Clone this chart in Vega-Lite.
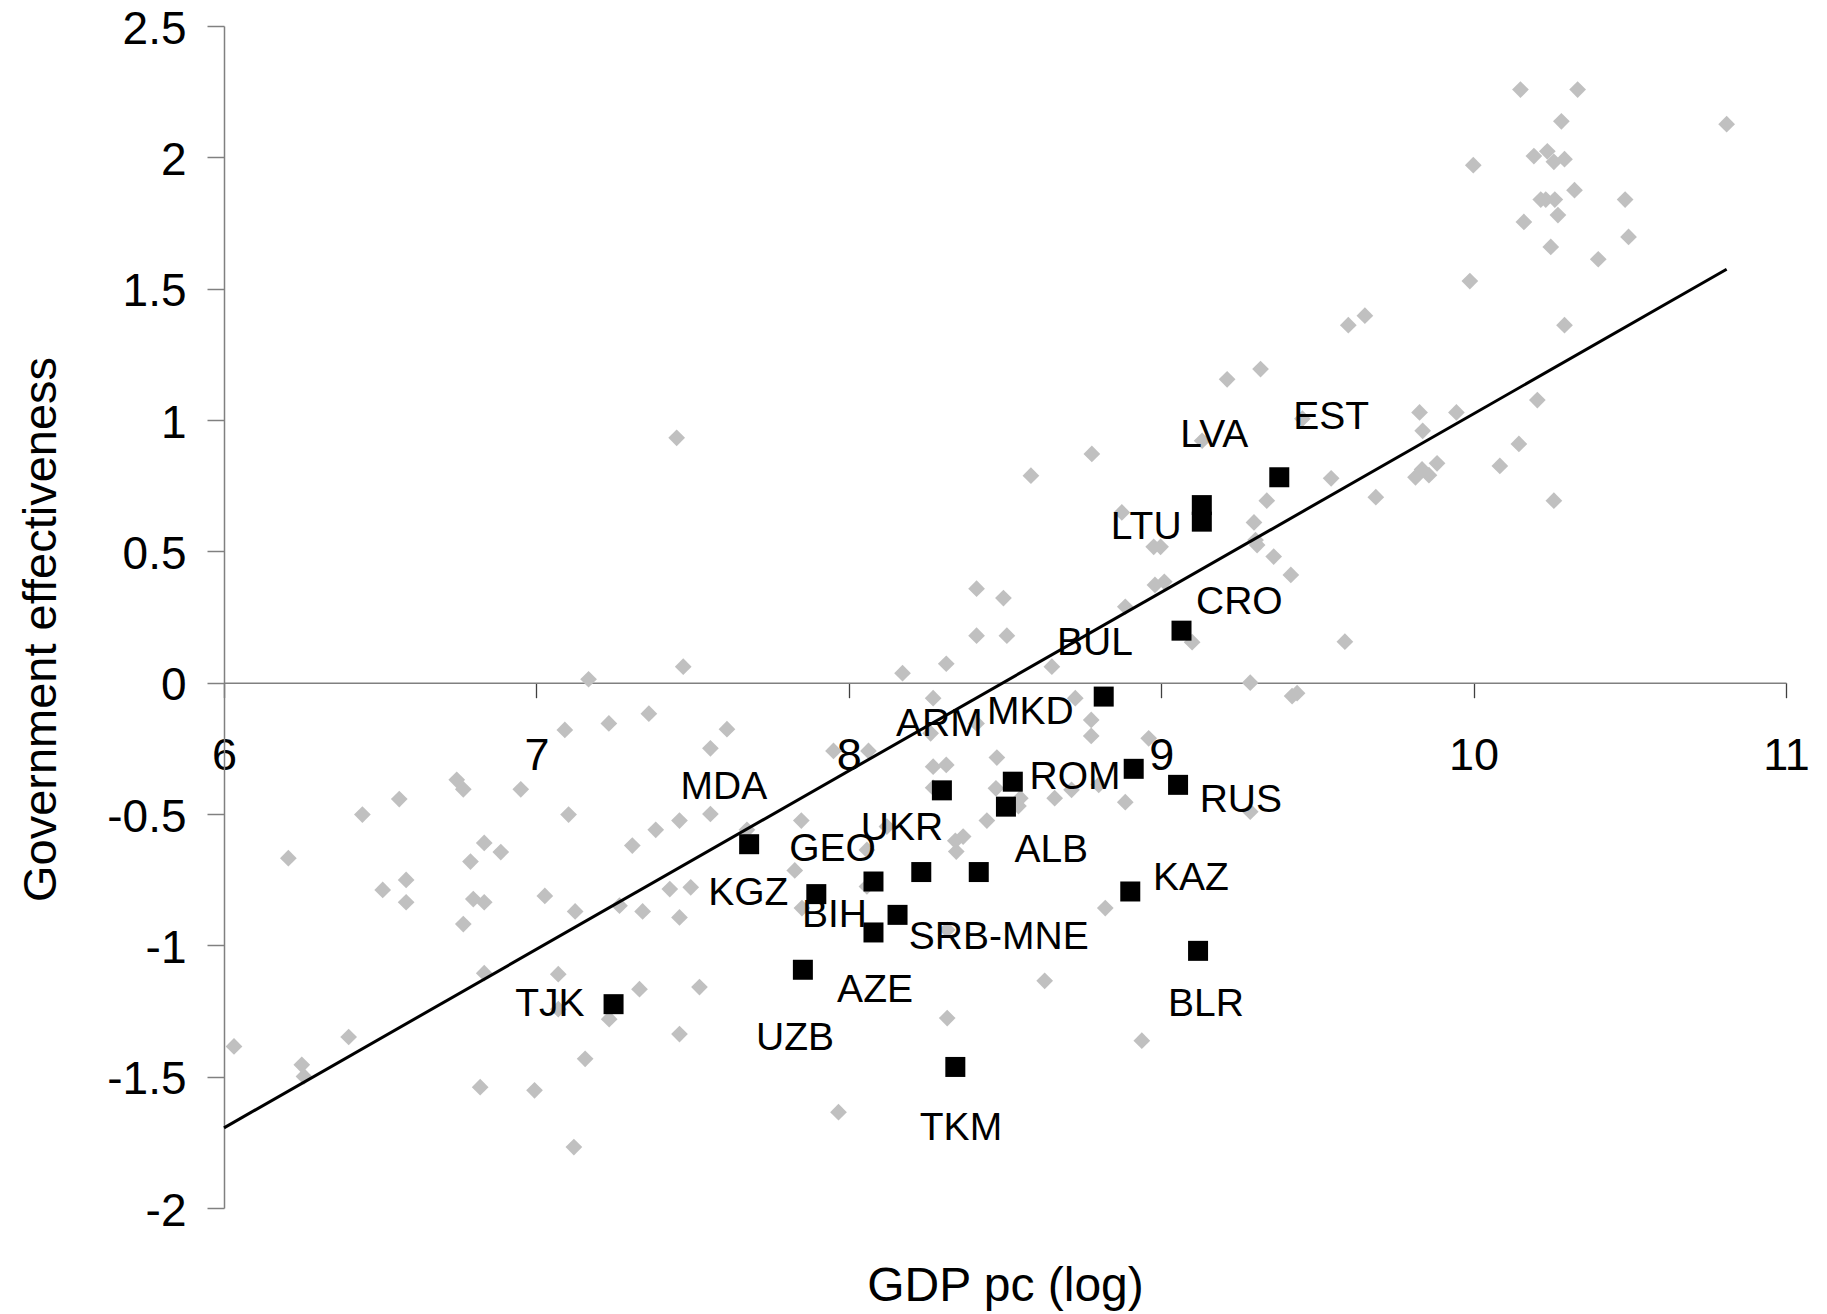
{
  "$schema": "https://vega.github.io/schema/vega-lite/v6.json",
  "autosize": {"type": "none"},
  "width": 1562,
  "height": 1182,
  "padding": {"left": 224, "top": 26, "right": 41, "bottom": 106},
  "background": "white",
  "config": {
    "view": {"stroke": null},
    "font": "Liberation Sans"
  },
  "datasets": {
    "others": [
      {"gdp": 6.032, "ge": -1.385}, {"gdp": 6.206, "ge": -0.668}, {"gdp": 6.249, "ge": -1.455}, {"gdp": 6.256, "ge": -1.499},
      {"gdp": 6.399, "ge": -1.349}, {"gdp": 6.443, "ge": -0.502}, {"gdp": 6.508, "ge": -0.789}, {"gdp": 6.561, "ge": -0.443},
      {"gdp": 6.583, "ge": -0.751}, {"gdp": 6.583, "ge": -0.836}, {"gdp": 6.745, "ge": -0.37}, {"gdp": 6.766, "ge": -0.406},
      {"gdp": 6.766, "ge": -0.919}, {"gdp": 6.789, "ge": -0.681}, {"gdp": 6.798, "ge": -0.824}, {"gdp": 6.82, "ge": -1.54},
      {"gdp": 6.833, "ge": -0.61}, {"gdp": 6.833, "ge": -0.836}, {"gdp": 6.833, "ge": -1.106}, {"gdp": 6.886, "ge": -0.645},
      {"gdp": 6.95, "ge": -0.406}, {"gdp": 6.994, "ge": -1.552}, {"gdp": 7.027, "ge": -0.812}, {"gdp": 7.07, "ge": -1.11},
      {"gdp": 7.07, "ge": -1.243}, {"gdp": 7.091, "ge": -0.18}, {"gdp": 7.103, "ge": -0.502}, {"gdp": 7.12, "ge": -1.768},
      {"gdp": 7.124, "ge": -0.871}, {"gdp": 7.156, "ge": -1.432}, {"gdp": 7.167, "ge": 0.013}, {"gdp": 7.232, "ge": -0.155},
      {"gdp": 7.233, "ge": -1.281}, {"gdp": 7.266, "ge": -0.849}, {"gdp": 7.307, "ge": -0.62}, {"gdp": 7.33, "ge": -1.167},
      {"gdp": 7.34, "ge": -0.871}, {"gdp": 7.36, "ge": -0.118}, {"gdp": 7.382, "ge": -0.56}, {"gdp": 7.427, "ge": -0.786},
      {"gdp": 7.449, "ge": 0.932}, {"gdp": 7.458, "ge": -0.525}, {"gdp": 7.458, "ge": -0.894}, {"gdp": 7.458, "ge": -1.338},
      {"gdp": 7.47, "ge": 0.061}, {"gdp": 7.494, "ge": -0.779}, {"gdp": 7.522, "ge": -1.159}, {"gdp": 7.557, "ge": -0.25},
      {"gdp": 7.557, "ge": -0.5}, {"gdp": 7.61, "ge": -0.177}, {"gdp": 7.674, "ge": -0.56}, {"gdp": 7.827, "ge": -0.715},
      {"gdp": 7.848, "ge": -0.525}, {"gdp": 7.85, "ge": -0.858}, {"gdp": 7.951, "ge": -0.26}, {"gdp": 7.967, "ge": -1.635},
      {"gdp": 8.058, "ge": -0.637}, {"gdp": 8.058, "ge": -0.776}, {"gdp": 8.063, "ge": -0.26}, {"gdp": 8.122, "ge": -0.548},
      {"gdp": 8.172, "ge": 0.036}, {"gdp": 8.262, "ge": -0.193}, {"gdp": 8.27, "ge": -0.059}, {"gdp": 8.27, "ge": -0.32},
      {"gdp": 8.27, "ge": -0.4}, {"gdp": 8.312, "ge": 0.072}, {"gdp": 8.312, "ge": -0.313}, {"gdp": 8.315, "ge": -0.941},
      {"gdp": 8.315, "ge": -1.277}, {"gdp": 8.341, "ge": -0.602}, {"gdp": 8.366, "ge": -0.586}, {"gdp": 8.344, "ge": -0.643},
      {"gdp": 8.409, "ge": 0.358}, {"gdp": 8.409, "ge": 0.179}, {"gdp": 8.409, "ge": -0.155}, {"gdp": 8.442, "ge": -0.525},
      {"gdp": 8.471, "ge": -0.402}, {"gdp": 8.474, "ge": -0.285}, {"gdp": 8.495, "ge": 0.322}, {"gdp": 8.506, "ge": 0.179},
      {"gdp": 8.549, "ge": -0.44}, {"gdp": 8.543, "ge": -0.47}, {"gdp": 8.583, "ge": 0.788}, {"gdp": 8.627, "ge": -1.135},
      {"gdp": 8.65, "ge": 0.061}, {"gdp": 8.659, "ge": -0.44}, {"gdp": 8.713, "ge": -0.408}, {"gdp": 8.725, "ge": -0.059},
      {"gdp": 8.776, "ge": -0.142}, {"gdp": 8.776, "ge": -0.203}, {"gdp": 8.778, "ge": 0.871}, {"gdp": 8.8, "ge": -0.389},
      {"gdp": 8.821, "ge": -0.858}, {"gdp": 8.874, "ge": 0.648}, {"gdp": 8.885, "ge": 0.289}, {"gdp": 8.885, "ge": -0.455},
      {"gdp": 8.938, "ge": -1.363}, {"gdp": 8.96, "ge": -0.212}, {"gdp": 8.976, "ge": 0.517}, {"gdp": 8.998, "ge": 0.517},
      {"gdp": 8.98, "ge": 0.372}, {"gdp": 9.01, "ge": 0.384}, {"gdp": 9.099, "ge": 0.154}, {"gdp": 9.131, "ge": 0.921},
      {"gdp": 9.211, "ge": 1.155}, {"gdp": 9.285, "ge": 0.0}, {"gdp": 9.285, "ge": -0.491}, {"gdp": 9.297, "ge": 0.61},
      {"gdp": 9.302, "ge": 0.543}, {"gdp": 9.307, "ge": 0.524}, {"gdp": 9.318, "ge": 1.194}, {"gdp": 9.338, "ge": 0.693},
      {"gdp": 9.36, "ge": 0.48}, {"gdp": 9.415, "ge": 0.41}, {"gdp": 9.419, "ge": -0.051}, {"gdp": 9.435, "ge": -0.04},
      {"gdp": 9.452, "ge": 1.005}, {"gdp": 9.544, "ge": 0.778}, {"gdp": 9.588, "ge": 0.156}, {"gdp": 9.599, "ge": 1.361},
      {"gdp": 9.652, "ge": 1.397}, {"gdp": 9.687, "ge": 0.706}, {"gdp": 9.814, "ge": 0.782}, {"gdp": 9.835, "ge": 0.812},
      {"gdp": 9.857, "ge": 0.79}, {"gdp": 9.827, "ge": 1.029}, {"gdp": 9.837, "ge": 0.959}, {"gdp": 9.883, "ge": 0.835},
      {"gdp": 9.945, "ge": 1.029}, {"gdp": 9.988, "ge": 1.529}, {"gdp": 9.999, "ge": 1.97}, {"gdp": 10.084, "ge": 0.825},
      {"gdp": 10.145, "ge": 0.909}, {"gdp": 10.15, "ge": 2.258}, {"gdp": 10.161, "ge": 1.754}, {"gdp": 10.193, "ge": 2.005},
      {"gdp": 10.204, "ge": 1.076}, {"gdp": 10.215, "ge": 1.839}, {"gdp": 10.231, "ge": 1.839}, {"gdp": 10.236, "ge": 2.023},
      {"gdp": 10.247, "ge": 1.659}, {"gdp": 10.257, "ge": 1.983}, {"gdp": 10.257, "ge": 0.693}, {"gdp": 10.26, "ge": 1.839},
      {"gdp": 10.27, "ge": 1.78}, {"gdp": 10.281, "ge": 2.137}, {"gdp": 10.291, "ge": 1.993}, {"gdp": 10.291, "ge": 1.361},
      {"gdp": 10.323, "ge": 1.875}, {"gdp": 10.333, "ge": 2.258}, {"gdp": 10.399, "ge": 1.612}, {"gdp": 10.485, "ge": 1.839},
      {"gdp": 10.496, "ge": 1.697}, {"gdp": 10.81, "ge": 2.126}
    ],
    "transition": [
      {"code": "TJK", "gdp": 7.247, "ge": -1.224, "lgdp": 7.043, "lge": -1.214},
      {"code": "MDA", "gdp": 7.681, "ge": -0.615, "lgdp": 7.6, "lge": -0.389},
      {"code": "KGZ", "gdp": 7.896, "ge": -0.805, "lgdp": 7.678, "lge": -0.793},
      {"code": "GEO", "gdp": 8.079, "ge": -0.757, "lgdp": 7.948, "lge": -0.626},
      {"code": "UKR", "gdp": 8.232, "ge": -0.721, "lgdp": 8.17, "lge": -0.544},
      {"code": "SRB-MNE", "gdp": 8.416, "ge": -0.721, "lgdp": 8.48, "lge": -0.96},
      {"code": "BIH", "gdp": 8.156, "ge": -0.884, "lgdp": 7.954, "lge": -0.877},
      {"code": "AZE", "gdp": 8.079, "ge": -0.951, "lgdp": 8.084, "lge": -1.163},
      {"code": "UZB", "gdp": 7.853, "ge": -1.093, "lgdp": 7.828, "lge": -1.347},
      {"code": "TKM", "gdp": 8.341, "ge": -1.463, "lgdp": 8.359, "lge": -1.689},
      {"code": "ARM", "gdp": 8.298, "ge": -0.41, "lgdp": 8.29, "lge": -0.151},
      {"code": "ROM", "gdp": 8.525, "ge": -0.377, "lgdp": 8.724, "lge": -0.352},
      {"code": "ALB", "gdp": 8.503, "ge": -0.472, "lgdp": 8.648, "lge": -0.628},
      {"code": "MKD", "gdp": 8.912, "ge": -0.328, "lgdp": 8.581, "lge": -0.104},
      {"code": "RUS", "gdp": 9.054, "ge": -0.389, "lgdp": 9.255, "lge": -0.438},
      {"code": "BUL", "gdp": 8.816, "ge": -0.053, "lgdp": 8.788, "lge": 0.16},
      {"code": "CRO", "gdp": 9.065, "ge": 0.198, "lgdp": 9.25, "lge": 0.316},
      {"code": "LVA", "gdp": 9.13, "ge": 0.676, "lgdp": 9.17, "lge": 0.949},
      {"code": "LTU", "gdp": 9.13, "ge": 0.613, "lgdp": 8.952, "lge": 0.6},
      {"code": "EST", "gdp": 9.378, "ge": 0.782, "lgdp": 9.544, "lge": 1.019},
      {"code": "KAZ", "gdp": 8.901, "ge": -0.795, "lgdp": 9.095, "lge": -0.736},
      {"code": "BLR", "gdp": 9.118, "ge": -1.021, "lgdp": 9.143, "lge": -1.214}
    ],
    "fit": [
      {"gdp": 6.0, "ge": -1.695},
      {"gdp": 10.81, "ge": 1.574}
    ]
  },
  "layer": [
    {
      "data": {"name": "others"},
      "mark": {"type": "point", "shape": "diamond", "filled": true, "color": "#C0C0C0", "size": 280, "opacity": 1},
      "encoding": {
        "x": {
          "field": "gdp", "type": "quantitative",
          "scale": {"domain": [6, 11], "nice": false, "zero": false},
          "axis": {
            "orient": "bottom",
            "offset": -525.3,
            "values": [6, 7, 8, 9, 10, 11],
            "labelExpr": "'' + datum.value",
            "labelFlush": false,
            "labelOverlap": false,
            "grid": false,
            "domainColor": "#808080",
            "domainWidth": 1.5,
            "tickColor": "#404040",
            "tickWidth": 1.3,
            "tickSize": 15,
            "labelFontSize": 45,
            "labelColor": "#000000",
            "labelPadding": 36,
            "labelFont": "Liberation Sans",
            "title": "GDP pc (log)",
            "titleFont": "Liberation Sans",
            "titleFontSize": 48,
            "titleFontWeight": "normal",
            "titleColor": "#000000",
            "titleBaseline": "alphabetic",
            "titleX": 781,
            "titleY": 618
          }
        },
        "y": {
          "field": "ge", "type": "quantitative",
          "scale": {"domain": [-2, 2.5], "nice": false, "zero": false},
          "axis": {
            "orient": "left",
            "values": [-2, -1.5, -1, -0.5, 0, 0.5, 1, 1.5, 2, 2.5],
            "labelExpr": "'' + datum.value",
            "labelFlush": false,
            "labelOverlap": false,
            "grid": false,
            "domainColor": "#808080",
            "domainWidth": 1.5,
            "tickColor": "#808080",
            "tickWidth": 1.5,
            "tickSize": 17,
            "labelFontSize": 46,
            "labelColor": "#000000",
            "labelPadding": 21,
            "labelFont": "Liberation Sans",
            "labelOffset": 3,
            "title": "Government effectiveness",
            "titleFont": "Liberation Sans",
            "titleFontSize": 47,
            "titleFontWeight": "normal",
            "titleColor": "#000000",
            "titleAngle": -90,
            "titleAlign": "center",
            "titleBaseline": "alphabetic",
            "titleX": -169,
            "titleY": 603
          }
        }
      }
    },
    {
      "data": {"name": "fit"},
      "mark": {"type": "line", "color": "#000000", "strokeWidth": 3},
      "encoding": {
        "x": {"field": "gdp", "type": "quantitative"},
        "y": {"field": "ge", "type": "quantitative"}
      }
    },
    {
      "data": {"name": "transition"},
      "mark": {"type": "point", "shape": "square", "filled": true, "color": "#000000", "size": 400, "opacity": 1},
      "encoding": {
        "x": {"field": "gdp", "type": "quantitative"},
        "y": {"field": "ge", "type": "quantitative"}
      }
    },
    {
      "data": {"name": "transition"},
      "mark": {"type": "text", "font": "Liberation Sans", "fontSize": 39, "color": "#000000", "align": "center", "baseline": "middle", "dy": 2},
      "encoding": {
        "x": {"field": "lgdp", "type": "quantitative"},
        "y": {"field": "lge", "type": "quantitative"},
        "text": {"field": "code", "type": "nominal"}
      }
    }
  ]
}
